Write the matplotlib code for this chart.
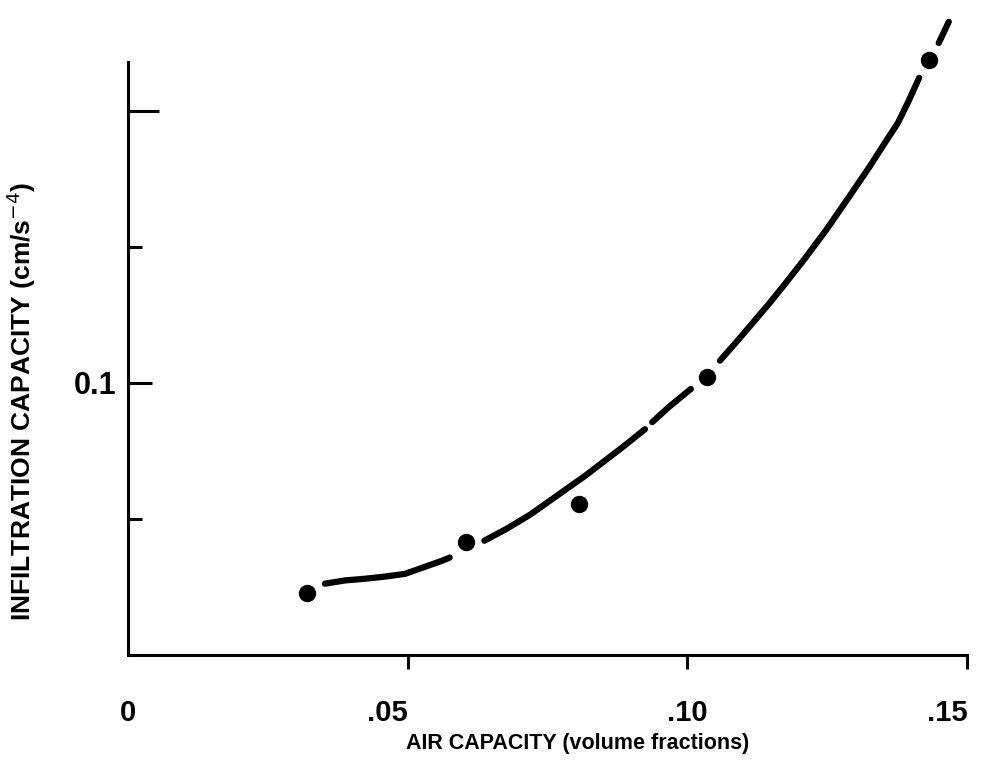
import numpy as np
import matplotlib.pyplot as plt

plt.rcParams['font.family'] = ['Liberation Sans', 'DejaVu Sans']

# measured points
air_cap = [0.032, 0.0604, 0.0806, 0.1035, 0.1432]
infil_cap = [0.0614, 0.0708, 0.0777, 0.1011, 0.1594]

# hand-drawn curve, broken where it passes the dots (nan = gap)
curve_x = [0.0352, 0.0388, 0.0423, 0.0459, 0.0495, 0.0528, 0.0561, 0.0575, np.nan,
           0.0637, 0.0677, 0.0719, 0.0752, 0.0785, 0.0818, 0.0851, 0.0884, 0.0924, np.nan,
           0.0937, 0.0967, 0.1006, np.nan,
           0.1058, 0.1088, 0.1117, 0.1146, 0.1175, 0.1210, 0.1247, 0.1286, 0.1325,
           0.1350, 0.1376, 0.1395, 0.1414, np.nan,
           0.1449, 0.1467]
curve_y = [0.0631, 0.0637, 0.0640, 0.0644, 0.0649, 0.0661, 0.0673, 0.0679, np.nan,
           0.0710, 0.0732, 0.0758, 0.0782, 0.0806, 0.0830, 0.0856, 0.0882, 0.0915, np.nan,
           0.0928, 0.0956, 0.0989, np.nan,
           0.1041, 0.1076, 0.1111, 0.1146, 0.1183, 0.1229, 0.1280, 0.1338, 0.1397,
           0.1437, 0.1478, 0.1518, 0.1561, np.nan,
           0.1625, 0.1664]

xticks = [0, 0.05, 0.10, 0.15]
xtick_labels = ['0', '.05', '.10', '.15']
yticks = [0.075, 0.1, 0.125, 0.15]
ytick_labels = ['', '0.1', '', '']

fig = plt.figure(figsize=(9.84, 7.66), dpi=100)
ax = fig.add_axes([0.130, 0.145, 0.853, 0.774])

ax.plot(curve_x, curve_y, color='black', lw=4.5, solid_capstyle='round',
        solid_joinstyle='round', clip_on=False)
ax.plot(air_cap, infil_cap, 'o', color='black', ms=11.5, clip_on=False)

ax.set_xlim(0, 0.15)
ax.set_ylim(0.05, 0.159)

for s in ['top', 'right']:
    ax.spines[s].set_visible(False)
for s in ['left', 'bottom']:
    ax.spines[s].set_linewidth(2.2)

ax.set_xticks(xticks)
ax.set_xticklabels(xtick_labels, fontsize=21, fontweight='bold')
xl = ax.get_xticklabels()
xl[1].set_ha('right')
xl[3].set_ha('right')
ax.set_yticks(yticks)
ax.set_yticklabels(ytick_labels, fontsize=22, fontweight='bold')
ax.tick_params(axis='x', direction='out', length=10, width=2.2, pad=22)
ax.tick_params(axis='y', direction='in', length=10, width=2.2, pad=8)
ax.xaxis.get_major_ticks()[0].tick1line.set_visible(False)
yt = ax.yaxis.get_major_ticks()
yt[1].tick1line.set_markersize(17)
yt[3].tick1line.set_markersize(22)

ax.set_xlabel('AIR CAPACITY (volume fractions)', fontsize=15.5, fontweight='bold')
ax.xaxis.set_label_coords(0.536, -0.132)
ax.set_ylabel('INFILTRATION CAPACITY (cm/s$^{-4}$)', fontsize=19, fontweight='bold')
ax.yaxis.set_label_coords(-0.107, 0.427)

fig.savefig('out.png', dpi=100)
